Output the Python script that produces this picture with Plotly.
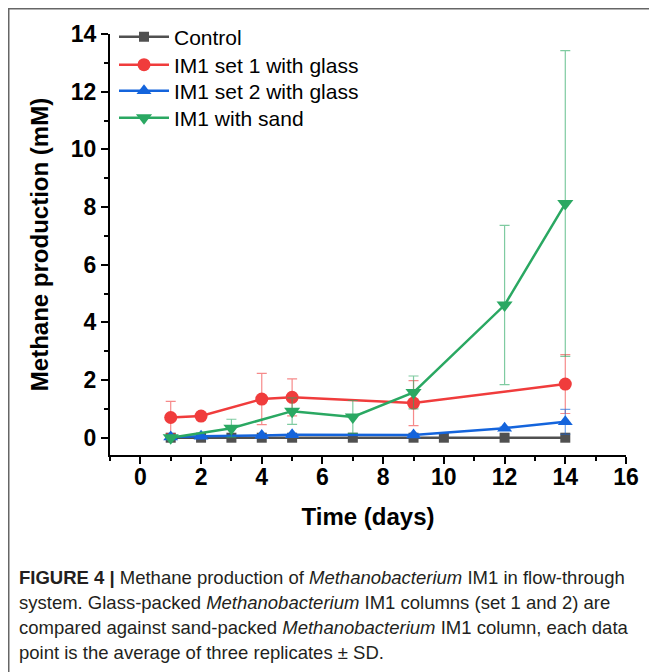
import plotly.graph_objects as go

# ---- data ----
control_x = [1, 2, 3, 4, 5, 7, 9, 10, 12, 14]
control_y = [0, 0, 0, 0, 0, 0, 0, 0, 0, 0]

set1_x = [1, 2, 4, 5, 9, 14]
set1_y = [0.70, 0.75, 1.34, 1.40, 1.20, 1.86]
set1_sd = [0.56, 0.05, 0.89, 0.64, 0.78, 1.02]

set2_x = [1, 2, 4, 5, 9, 12, 14]
set2_y = [0.02, 0.05, 0.08, 0.10, 0.09, 0.33, 0.55]
set2_sd = [0.02, 0.02, 0.03, 0.03, 0.03, 0.05, 0.43]

sand_x = [1, 3, 5, 7, 9, 12, 14]
sand_y = [0.0, 0.33, 0.92, 0.72, 1.57, 4.6, 8.12]
sand_sd = [0.02, 0.31, 0.46, 0.57, 0.57, 2.76, 5.3]

names = ["Control", "IM1 set 1 with glass", "IM1 set 2 with glass", "IM1 with sand"]
colors = ["#505050", "#f03c3c", "#1464dc", "#2aa862"]
err_colors = ["rgba(80,80,80,0.6)", "rgba(240,60,60,0.6)", "rgba(20,100,220,0.6)", "rgba(42,168,98,0.6)"]

caption_lines = [
    "<b>FIGURE 4 |</b> Methane production of <i>Methanobacterium</i> IM1 in flow-through",
    "system. Glass-packed <i>Methanobacterium</i> IM1 columns (set 1 and 2) are",
    "compared against sand-packed <i>Methanobacterium</i> IM1 column, each data",
    "point is the average of three replicates \u00b1 SD.",
]

OFF = 8  # page body margin
W, H = 657 - OFF, 672 - OFF
L, R, T, B = 110 - OFF, 31, 34 - OFF, 217
pw, ph = W - L - R, H - T - B


def px_x(x):  # screenshot px -> paper
    return (x - OFF - L) / pw


def px_y(y):
    return (H - B - (y - OFF)) / ph


FONT = "Liberation Sans, Arial, sans-serif"

fig = go.Figure()

fig.add_trace(go.Scatter(
    x=control_x, y=control_y, name=names[0], mode="lines+markers", legend="legend",
    line=dict(color=colors[0], width=2.5),
    marker=dict(symbol="square", size=10, color=colors[0]),
))
fig.add_trace(go.Scatter(
    x=set1_x, y=set1_y, name=names[1], mode="lines+markers", legend="legend2",
    line=dict(color=colors[1], width=2.5),
    marker=dict(symbol="circle", size=13, color=colors[1]),
    error_y=dict(type="data", array=set1_sd, visible=True, color=err_colors[1], thickness=1.2, width=5),
))
fig.add_trace(go.Scatter(
    x=set2_x, y=set2_y, name=names[2], mode="lines+markers", legend="legend3",
    line=dict(color=colors[2], width=2.5),
    marker=dict(symbol="triangle-up", size=13, color=colors[2]),
    error_y=dict(type="data", array=set2_sd, visible=True, color=err_colors[2], thickness=1.2, width=5),
))
fig.add_trace(go.Scatter(
    x=sand_x, y=sand_y, name=names[3], mode="lines+markers", legend="legend4",
    line=dict(color=colors[3], width=2.5),
    marker=dict(symbol="triangle-down", size=14, color=colors[3]),
    error_y=dict(type="data", array=sand_sd, visible=True, color=err_colors[3], thickness=1.2, width=5),
))

fig.update_xaxes(
    range=[-1, 16], dtick=2, tick0=0, showgrid=False, zeroline=False,
    showline=True, linecolor="black", linewidth=2,
    ticks="outside", ticklen=7, tickwidth=1.5, tickcolor="black",
    minor=dict(dtick=1, tick0=0, ticks="outside", ticklen=4, tickwidth=1.5, tickcolor="black"),
    tickfont=dict(family=FONT, size=23, color="black", weight="bold"),
    ticklabelstandoff=-7,
    title=dict(text="<b>Time (days)</b>", font=dict(family=FONT, size=24, color="black"), standoff=20),
)
fig.update_yaxes(
    range=[-0.6, 14], dtick=2, tick0=0, showgrid=False, zeroline=False,
    showline=True, linecolor="black", linewidth=2,
    ticks="outside", ticklen=7, tickwidth=1.5, tickcolor="black",
    minor=dict(dtick=1, tick0=0, ticks="outside", ticklen=4, tickwidth=1.5, tickcolor="black"),
    tickfont=dict(family=FONT, size=23, color="black", weight="bold"),
    title=dict(text="<b>Methane production (mM)</b>", font=dict(family=FONT, size=24, color="black"), standoff=15),
)

annotations = []
cap_y = [577, 602, 627, 652]
for line, yy in zip(caption_lines, cap_y):
    annotations.append(dict(
        text=line, xref="paper", yref="paper", x=px_x(17), y=px_y(yy),
        xanchor="left", yanchor="middle", showarrow=False, align="left",
        font=dict(family=FONT, size=18.5, color="#231f20"),
    ))

leg_rows = [37, 65, 91, 118]
leg_common = dict(xanchor="left", yanchor="middle", bgcolor="rgba(0,0,0,0)",
                  font=dict(family=FONT, size=21, color="black"), itemwidth=50)
layout_legends = {}
for i, yy in enumerate(leg_rows):
    key = "legend" if i == 0 else f"legend{i + 1}"
    layout_legends[key] = dict(x=px_x(114), y=px_y(yy), **leg_common)

fig.update_layout(
    width=W, height=H,
    margin=dict(l=L, r=R, t=T, b=B, autoexpand=False),
    paper_bgcolor="white", plot_bgcolor="white",
    showlegend=True,
    annotations=annotations,
    shapes=[dict(type="rect", xref="paper", yref="paper",
                 x0=px_x(8.5), x1=px_x(720), y0=px_y(760), y1=px_y(8.5),
                 line=dict(color="#666666", width=2), layer="below")],
    **layout_legends,
)

fig.write_html("out.html")
